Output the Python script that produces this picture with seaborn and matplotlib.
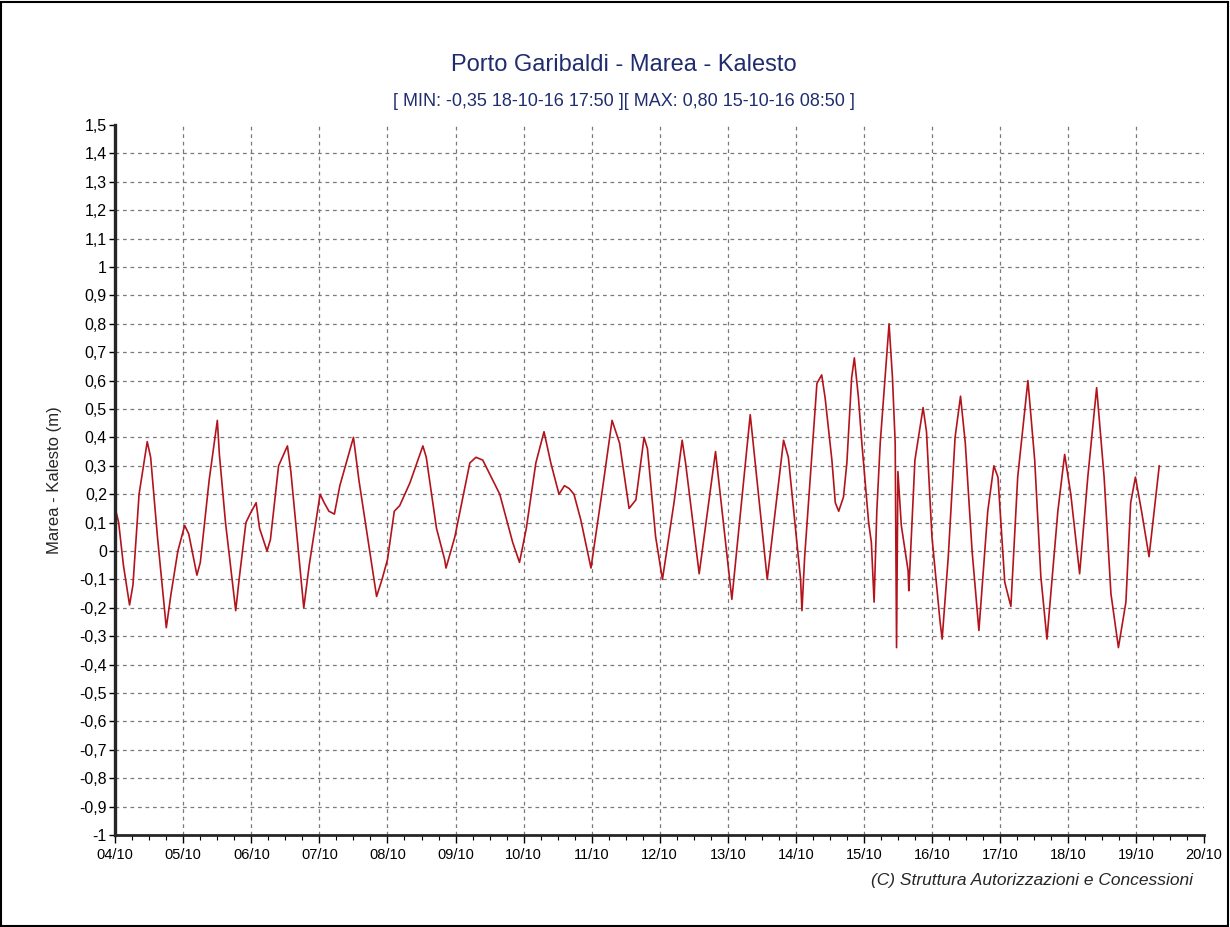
import numpy as np
import pandas as pd
import matplotlib
matplotlib.use("Agg")
import matplotlib.pyplot as plt
from matplotlib.patches import Rectangle
import seaborn as sns

# tempo in giorni dal 04/10 00:00, livello marea (m)
giorni = [
    0.00, 0.05, 0.12, 0.21, 0.26, 0.35, 0.47, 0.52, 0.62, 0.75, 0.82, 0.92,
    1.02, 1.08, 1.20, 1.25, 1.38, 1.50, 1.53, 1.62, 1.77, 1.82, 1.92, 1.98,
    2.07, 2.12, 2.23, 2.28, 2.40, 2.53, 2.58, 2.77, 2.85, 3.01, 3.07, 3.14,
    3.22, 3.30, 3.50, 3.58, 3.84, 3.92, 4.00, 4.10, 4.18, 4.33, 4.52, 4.57,
    4.72, 4.84, 4.86, 4.99, 5.21, 5.30, 5.40, 5.65, 5.84, 5.94, 6.04, 6.18,
    6.30, 6.40, 6.52, 6.60, 6.67, 6.74, 6.84, 6.99, 7.16, 7.30, 7.41, 7.55,
    7.65, 7.77, 7.82, 7.94, 8.04, 8.21, 8.33, 8.38, 8.58, 8.82, 9.06, 9.33,
    9.58, 9.82, 9.89, 10.07, 10.09, 10.13, 10.31, 10.38, 10.43, 10.53, 10.58,
    10.63, 10.70, 10.75, 10.82, 10.86, 10.92, 10.97, 11.02, 11.07, 11.11,
    11.15, 11.19, 11.24, 11.29, 11.37, 11.42, 11.46, 11.48, 11.50, 11.55,
    11.65, 11.66, 11.75, 11.87, 11.92, 12.00, 12.02, 12.12, 12.15, 12.24,
    12.34, 12.42, 12.49, 12.59, 12.69, 12.82, 12.91, 12.97, 13.07, 13.16,
    13.26, 13.41, 13.51, 13.60, 13.69, 13.85, 13.95, 14.04, 14.17, 14.29,
    14.42, 14.53, 14.63, 14.74, 14.85, 14.92, 14.99, 15.08, 15.19, 15.34,
]
marea = [
    0.15, 0.10, -0.05, -0.19, -0.12, 0.20, 0.385, 0.33, 0.05, -0.27, -0.15, 0.00,
    0.09, 0.06, -0.085, -0.04, 0.25, 0.46, 0.34, 0.10, -0.21, -0.10, 0.10, 0.13,
    0.17, 0.08, 0.00, 0.04, 0.30, 0.37, 0.28, -0.20, -0.05, 0.20, 0.17, 0.14,
    0.13, 0.23, 0.40, 0.25, -0.16, -0.10, -0.03, 0.14, 0.16, 0.24, 0.37, 0.33,
    0.08, -0.03, -0.06, 0.05, 0.31, 0.33, 0.32, 0.20, 0.03, -0.04, 0.08, 0.31,
    0.42, 0.31, 0.20, 0.23, 0.22, 0.20, 0.11, -0.06, 0.22, 0.46, 0.38, 0.15,
    0.18, 0.40, 0.36, 0.05, -0.10, 0.17, 0.39, 0.31, -0.08, 0.35, -0.17, 0.48,
    -0.10, 0.39, 0.33, -0.10, -0.21, -0.02, 0.59, 0.62, 0.54, 0.32, 0.17,
    0.14, 0.19, 0.31, 0.61, 0.68, 0.54, 0.38, 0.24, 0.10, 0.03,
    -0.18, 0.14, 0.38, 0.54, 0.80, 0.61, 0.38, -0.34, 0.28, 0.09,
    -0.07, -0.14, 0.32, 0.505, 0.42, 0.05, 0.00, -0.25, -0.31, -0.02,
    0.40, 0.545, 0.38, 0.00, -0.28, 0.14, 0.30, 0.26, -0.11, -0.195,
    0.26, 0.60, 0.32, -0.09, -0.31, 0.14, 0.34, 0.20, -0.08, 0.26,
    0.575, 0.26, -0.15, -0.34, -0.18, 0.17, 0.26, 0.14, -0.02, 0.30,
]

etichette_x = ["04/10", "05/10", "06/10", "07/10", "08/10", "09/10", "10/10", "11/10",
               "12/10", "13/10", "14/10", "15/10", "16/10", "17/10", "18/10", "19/10", "20/10"]
valori_y = [-1.0, -0.9, -0.8, -0.7, -0.6, -0.5, -0.4, -0.3, -0.2, -0.1, 0.0,
            0.1, 0.2, 0.3, 0.4, 0.5, 0.6, 0.7, 0.8, 0.9, 1.0, 1.1, 1.2, 1.3, 1.4, 1.5]
etichette_y = ["-1", "-0,9", "-0,8", "-0,7", "-0,6", "-0,5", "-0,4", "-0,3", "-0,2", "-0,1", "0",
               "0,1", "0,2", "0,3", "0,4", "0,5", "0,6", "0,7", "0,8", "0,9", "1",
               "1,1", "1,2", "1,3", "1,4", "1,5"]

df = pd.DataFrame({"giorno": giorni, "marea": marea})

sns.set_style("ticks")
plt.rcParams["font.family"] = ["Liberation Sans", "DejaVu Sans"]

fig = plt.figure(figsize=(12.3, 9.27), dpi=100)
ax = fig.add_axes([0.0937, 0.0992, 0.979 - 0.0937, 0.8652 - 0.0992])

sns.lineplot(data=df, x="giorno", y="marea", ax=ax, color="#b3141c", linewidth=1.2,
             estimator=None, sort=False)

ax.set_xlim(0, 16)
ax.set_ylim(-1, 1.5)
ax.set_xticks(range(len(etichette_x)))
ax.set_xticklabels(etichette_x, fontsize=10.5)
ax.set_xticks(np.arange(0, 16.01, 0.25), minor=True)
ax.set_yticks(valori_y)
ax.set_yticklabels(etichette_y, fontsize=11.5)

ax.grid(True, which="major", linestyle=(0, (3, 3)), color="#7a7a7a", linewidth=0.9)
ax.yaxis.get_gridlines()[-1].set_visible(False)
ax.xaxis.get_gridlines()[-1].set_visible(False)

sns.despine(ax=ax)
ax.spines["left"].set_linewidth(2.4)
ax.spines["bottom"].set_linewidth(2.0)
ax.tick_params(axis="x", which="major", length=6, width=1, pad=3, colors="black")
ax.tick_params(axis="x", which="minor", length=3.5, width=0.8, colors="black")
ax.tick_params(axis="y", which="major", length=4, width=1, pad=2, colors="black")

ax.set_xlabel("")
ax.set_ylabel("Marea - Kalesto (m)", fontsize=12)
ax.yaxis.set_label_coords(-0.049, 0.5)

fig.text(0.507, 0.930, "Porto Garibaldi - Marea - Kalesto", ha="center", va="center",
         fontsize=17, color="#1f2d6e")
fig.text(0.507, 0.890, "[ MIN: -0,35 18-10-16 17:50 ][ MAX: 0,80 15-10-16 08:50 ]",
         ha="center", va="center", fontsize=13, color="#1f2d6e")
fig.text(0.970, 0.0507, "(C) Struttura Autorizzazioni e Concessioni", ha="right", va="center",
         fontsize=12.5, fontstyle="italic")

# cornice esterna
fig.add_artist(Rectangle((0.001, 0.001), 0.997, 0.997, transform=fig.transFigure,
                         fill=False, edgecolor="black", linewidth=1.5))

fig.savefig("out.png", dpi=100)
